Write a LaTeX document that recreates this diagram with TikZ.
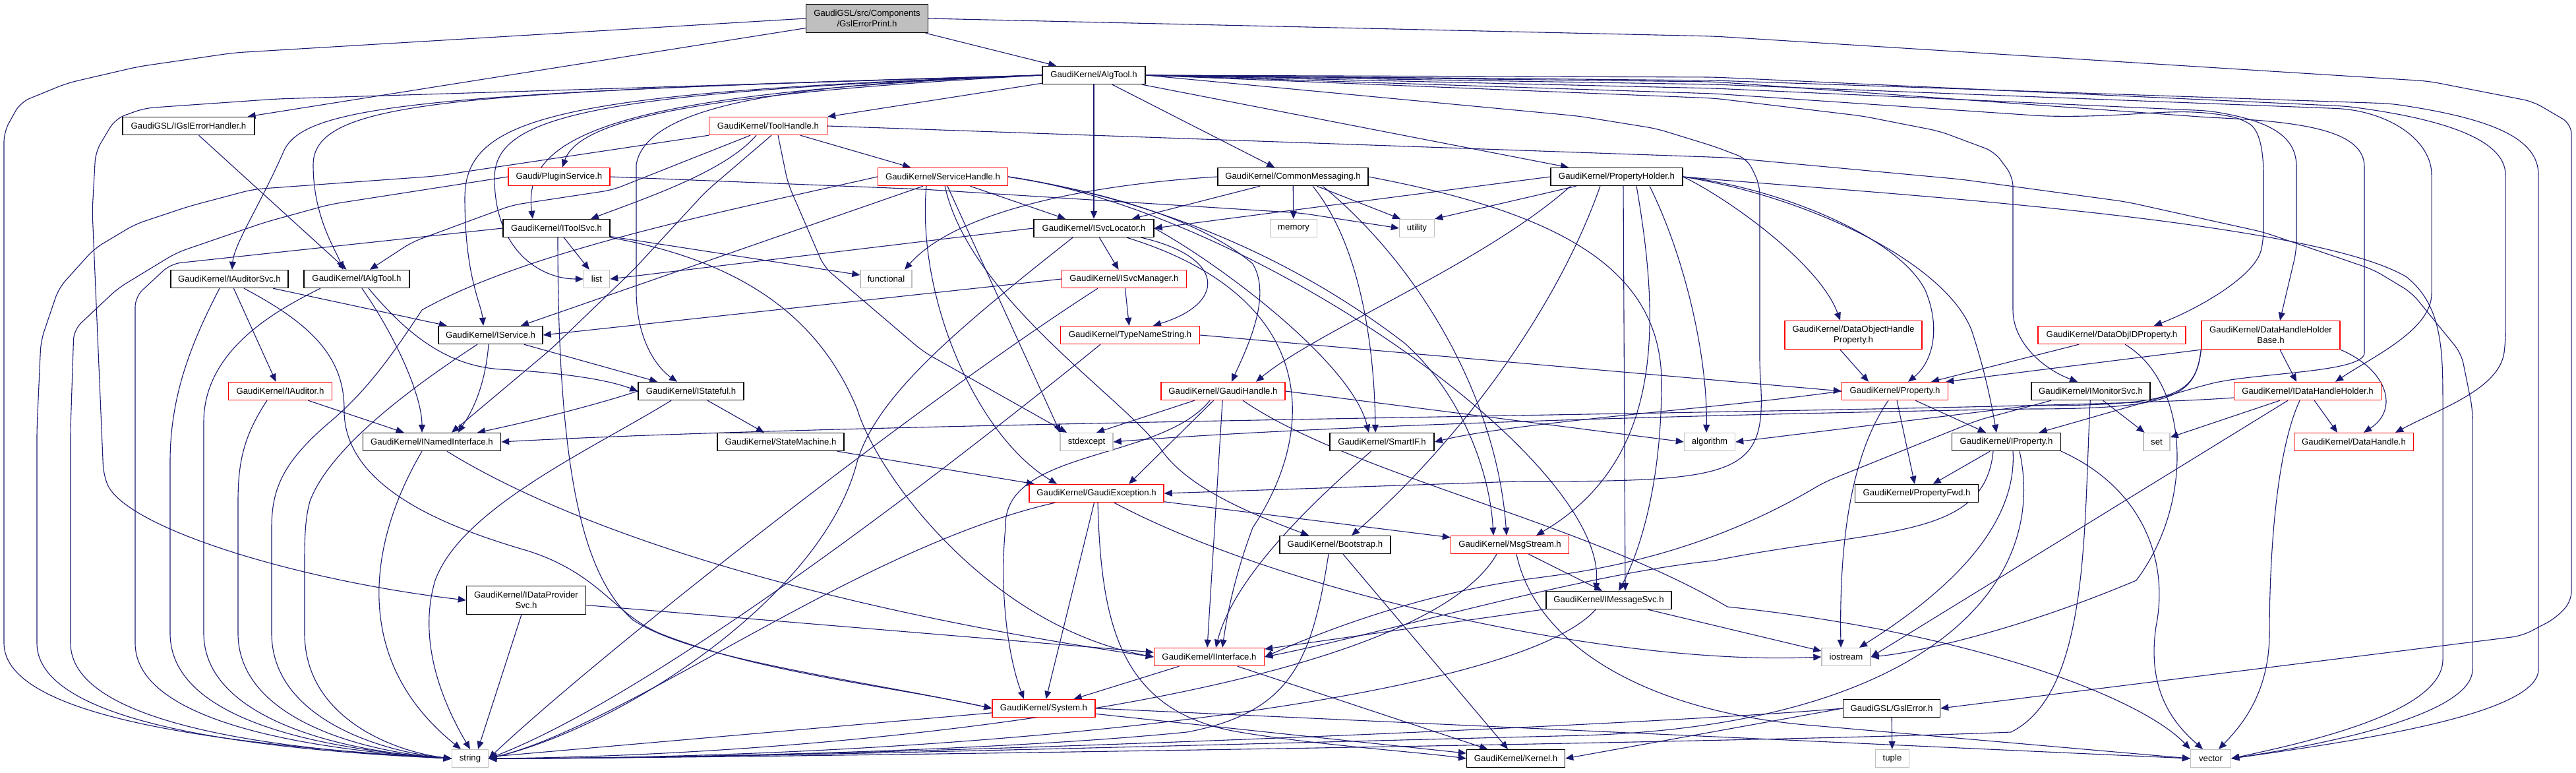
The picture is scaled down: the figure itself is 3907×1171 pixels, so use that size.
\documentclass[tikz,border=0pt]{standalone}
\usepackage{fontspec}
\setsansfont{Liberation Sans}
\usetikzlibrary{arrows.meta}
\definecolor{navy}{RGB}{25,25,112}
\definecolor{sysgray}{RGB}{191,191,191}
\definecolor{boxred}{RGB}{255,0,0}
\pgfdeclarelayer{bg}
\pgfdeclarelayer{edges}
\pgfsetlayers{bg,edges,main}
\tikzset{
 hdr/.style={draw=black, line width=1.4pt, fill=white, inner sep=0pt, minimum height=27pt, align=center, font=\sffamily\fontsize{13.2pt}{16pt}\selectfont},
 redhdr/.style={hdr, draw=boxred},
 syshdr/.style={hdr, draw=sysgray},
 e/.style={draw=navy, line width=1.1pt, -{Triangle[length=12pt,width=10pt]}},
 r/.style={rounded corners=15pt}
}
\begin{document}
\begin{tikzpicture}[x=1pt,y=-1pt]
\begin{pgfonlayer}{bg}
\fill[white] (0,0) rectangle (3907,1171);
\end{pgfonlayer}
\useasboundingbox (0,0) rectangle (3907,1171);
% nodes
\node[hdr, fill=sysgray, minimum width=185pt, minimum height=43pt] (gep) at (1315,28) {GaudiGSL/src/Components\\/GslErrorPrint.h};
\node[hdr, minimum width=156pt] (algtool) at (1659,114) {GaudiKernel/AlgTool.h};
\node[hdr, minimum width=200pt] (igsl) at (286,191) {GaudiGSL/IGslErrorHandler.h};
\node[redhdr, minimum width=179pt] (toolhandle) at (1165,191) {GaudiKernel/ToolHandle.h};
\node[redhdr, minimum width=154pt] (pluginsvc) at (848,268) {Gaudi/PluginService.h};
\node[redhdr, minimum width=197pt] (servicehandle) at (1430,268) {GaudiKernel/ServiceHandle.h};
\node[hdr, minimum width=228pt] (commonmsg) at (1961,268) {GaudiKernel/CommonMessaging.h};
\node[hdr, minimum width=200pt] (propholder) at (2452,268) {GaudiKernel/PropertyHolder.h};
\node[hdr, minimum width=162pt] (itoolsvc) at (844,346) {GaudiKernel/IToolSvc.h};
\node[hdr, minimum width=182pt] (isvcloc) at (1659,346) {GaudiKernel/ISvcLocator.h};
\node[syshdr, minimum width=71pt] (memory) at (1962,346) {memory};
\node[syshdr, minimum width=53pt] (utility) at (2149,346) {utility};
\node[hdr, minimum width=178pt] (iauditorsvc) at (348,423) {GaudiKernel/IAuditorSvc.h};
\node[hdr, minimum width=160pt] (ialgtool) at (541,423) {GaudiKernel/IAlgTool.h};
\node[syshdr, minimum width=39pt] (list) at (905,423) {list};
\node[syshdr, minimum width=78pt] (functional) at (1344,423) {functional};
\node[redhdr, minimum width=189pt] (isvcmgr) at (1705,423) {GaudiKernel/ISvcManager.h};
\node[hdr, minimum width=158pt] (iservice) at (744,508) {GaudiKernel/IService.h};
\node[redhdr, minimum width=211pt] (typename) at (1714,508) {GaudiKernel/TypeNameString.h};
\node[redhdr, minimum width=208pt, minimum height=43pt] (dohprop) at (2811,508) {GaudiKernel/DataObjectHandle\\Property.h};
\node[redhdr, minimum width=224pt] (dataobjid) at (3203,508) {GaudiKernel/DataObjIDProperty.h};
\node[redhdr, minimum width=210pt, minimum height=43pt] (dhhbase) at (3444,508) {GaudiKernel/DataHandleHolder\\Base.h};
\node[redhdr, minimum width=157pt] (iauditor) at (425,593) {GaudiKernel/IAuditor.h};
\node[hdr, minimum width=160pt] (istateful) at (1048,593) {GaudiKernel/IStateful.h};
\node[redhdr, minimum width=188pt] (gaudihandle) at (1855,593) {GaudiKernel/GaudiHandle.h};
\node[redhdr, minimum width=161pt] (property) at (2874,593) {GaudiKernel/Property.h};
\node[hdr, minimum width=180pt] (imonitorsvc) at (3171,593) {GaudiKernel/IMonitorSvc.h};
\node[redhdr, minimum width=223pt] (idhholder) at (3500,593) {GaudiKernel/IDataHandleHolder.h};
\node[hdr, minimum width=209pt] (inamed) at (655,670) {GaudiKernel/INamedInterface.h};
\node[hdr, minimum width=192pt] (statemachine) at (1184,670) {GaudiKernel/StateMachine.h};
\node[syshdr, minimum width=80pt] (stdexcept) at (1648,670) {stdexcept};
\node[hdr, minimum width=158pt] (smartif) at (2096,670) {GaudiKernel/SmartIF.h};
\node[syshdr, minimum width=77pt] (algorithm) at (2593,670) {algorithm};
\node[hdr, minimum width=165pt] (iproperty) at (3043,670) {GaudiKernel/IProperty.h};
\node[syshdr, minimum width=40pt] (set) at (3271,670) {set};
\node[redhdr, minimum width=181pt] (datahandle) at (3570,670) {GaudiKernel/DataHandle.h};
\node[redhdr, minimum width=204pt] (gaudiexc) at (1663,748) {GaudiKernel/GaudiException.h};
\node[hdr, minimum width=187pt] (propfwd) at (2907,748) {GaudiKernel/PropertyFwd.h};
\node[hdr, minimum width=168pt] (bootstrap) at (2025,826) {GaudiKernel/Bootstrap.h};
\node[redhdr, minimum width=179pt] (msgstream) at (2290,826) {GaudiKernel/MsgStream.h};
\node[hdr, minimum width=181pt, minimum height=43pt] (idataprov) at (798,910) {GaudiKernel/IDataProvider\\Svc.h};
\node[hdr, minimum width=190pt] (imessagesvc) at (2440,910) {GaudiKernel/IMessageSvc.h};
\node[redhdr, minimum width=167pt] (iinterface) at (1834,996) {GaudiKernel/IInterface.h};
\node[syshdr, minimum width=74pt] (iostream) at (2800,996) {iostream};
\node[redhdr, minimum width=156pt] (system) at (1583,1074) {GaudiKernel/System.h};
\node[hdr, minimum width=147pt] (gslerror) at (2869,1074) {GaudiGSL/GslError.h};
\node[syshdr, minimum width=55pt] (string) at (713,1150) {string};
\node[hdr, minimum width=149pt] (kernel) at (2299,1150) {GaudiKernel/Kernel.h};
\node[syshdr, minimum width=51pt] (tuple) at (2870,1150) {tuple};
\node[syshdr, minimum width=61pt] (vector) at (3353,1150) {vector};

\begin{pgfonlayer}{edges}
% GslErrorPrint
\draw[e] (gep) -- (algtool);
\draw[e] (gep) -- (igsl);
\draw[e,r] (gep.west) -- (355,80) -- (210,101) -- (102,126) -- (31,155) -- (6,200) -- (6,960) .. controls (6,1090) and (350,1130) .. (string.west);
\draw[e,r] (gep.east) -- (2600,55) -- (3683,123) -- (3842,154) -- (3900,188) -- (3900,912) -- (3875,938) -- (3825,964) -- (gslerror.east);
% IGslErrorHandler
\draw[e] (igsl) -- (ialgtool);
% AlgTool
\draw[e] (algtool) -- (toolhandle);
\draw[e] (algtool) -- (commonmsg);
\draw[e] (algtool) -- (propholder);
\draw[e] (algtool) -- (isvcloc);
\draw[e] (algtool.west) .. controls (1100,140) and (880,175) .. (pluginsvc);
\draw[e] (algtool.west) .. controls (950,140) and (790,200) .. ([xshift=-36pt]itoolsvc.north);
\draw[e] (algtool.west) .. controls (900,140) and (750,175) .. (750,270) .. controls (750,380) and (820,423) .. (list.west);
\draw[e] (algtool.west) .. controls (850,140) and (705,175) .. (705,300) .. controls (705,420) and (730,460) .. ([xshift=-11pt]iservice.north);
\draw[e] (algtool.west) .. controls (700,140) and (475,150) .. (475,250) .. controls (475,330) and (510,380) .. ([xshift=-21pt]ialgtool.north);
\draw[e] (algtool.west) .. controls (640,140) and (460,160) .. (430,230) .. controls (395,310) and (355,370) .. ([xshift=4pt]iauditorsvc.north);
\draw[e,r] (algtool.west) -- (420,150) -- (219,164) -- (175,180) -- (145,230) -- (140,320) -- (157,720) .. controls (190,800) and (450,880) .. (idataprov.west);
\draw[e] (algtool.west) .. controls (1250,125) and (980,150) .. (965,250) -- (965,440) .. controls (965,520) and (1000,560) .. ([xshift=-21pt]istateful.north);
\draw[e,r] (algtool.east) -- (2600,149) -- (2825,176) -- (2942,199) -- (3025,230) -- (3053,268) -- (3053,455) .. controls (3053,520) and (3100,560) .. ([xshift=-20pt]imonitorsvc.north);
\draw[e,r] (algtool.east) -- (2600,142) -- (3100,176) .. controls (3250,178) and (3300,160) .. (3400,180) .. controls (3430,200) and (3433,240) .. (3433,280) -- (3433,364) .. controls (3420,420) and (3330,470) .. ([xshift=64pt]dataobjid.north);
\draw[e,r] (algtool.east) -- (2600,134) -- (3350,168) .. controls (3450,185) and (3483,210) .. (3483,268) -- (3483,380) -- ([xshift=14pt]dhhbase.north);
\draw[e,r] (algtool.east) -- (2600,128) -- (3558,165) .. controls (3640,180) and (3688,220) .. (3688,280) -- (3688,430) .. controls (3688,500) and (3600,540) .. ([xshift=42pt]idhholder.north);
\draw[e,r] (algtool.east) -- (2600,117) -- (3558,161) .. controls (3700,180) and (3800,210) .. (3800,280) -- (3800,520) .. controls (3790,590) and (3700,620) .. ([xshift=63pt]datahandle.north);
\draw[e,r] (algtool.east) -- (2600,122) -- (3625,157) .. controls (3780,180) and (3850,210) .. (3850,280) -- (3850,1000) .. controls (3850,1080) and (3600,1120) .. (vector.east);
\draw[e,r] (algtool.east) -- (2600,124) -- (3350,178) .. controls (3500,185) and (3586,200) .. (3586,268) -- (3586,520) .. controls (3586,565) and (3420,565) .. (3340,585) -- (iproperty);
\draw[e,r] (algtool.east) -- (2394,176) -- (2512,195) -- (2600,222) -- (2650,241) -- (2669,280) -- (2669,560) .. controls (2680,720) and (2640,730) .. (2300,730) -- (gaudiexc.east);
% ToolHandle
\draw[e,r] (toolhandle.south west) -- (661,267) -- (384,287) -- (286,313) -- (205,340) -- (143,377) -- (89,437) -- (62,517) -- (56,650) -- (56,960) .. controls (56,1090) and (350,1135) .. (string.west);
\draw[e,r] ([xshift=-27pt]toolhandle.south) -- (929,288) -- (777,311) -- (625,367) -- ([xshift=20pt]ialgtool.north);
\draw[e] ([xshift=-18pt]toolhandle.south) .. controls (1100,260) and (980,300) .. ([xshift=52pt]itoolsvc.north);
\draw[e,r] ([xshift=5pt]toolhandle.south) -- (1071,290) -- (960,410) -- (835,530) -- ([xshift=30pt]inamed.north);
\draw[e] (toolhandle) -- (servicehandle);
\draw[e,r] (toolhandle.east) -- (2620,239) -- (2975,272) -- (3225,306) -- (3433,352) -- (3600,409) -- (3658,444) -- (3733,536) -- (3750,620) -- (3750,1000) .. controls (3750,1080) and (3550,1125) .. (vector.east);
\draw[e,r] ([xshift=15pt]toolhandle.south) -- (1195,278) -- (1250,405) -- (1400,533) -- ([xshift=-30pt]stdexcept.north);
% PluginService
\draw[e,r] (pluginsvc.west) -- (500,310) -- (402,337) -- (268,383) -- (179,437) -- (112,500) -- (107,650) -- (107,960) .. controls (107,1090) and (380,1135) .. (string.west);
\draw[e,r] (pluginsvc.east) -- (1400,287) -- (1973,323) -- (utility.west);
% ServiceHandle
\draw[e] (servicehandle) -- ([xshift=-43pt]isvcloc.north);
\draw[e] ([xshift=-30pt]servicehandle.south) -- ([xshift=46pt]iservice.north);
\draw[e] ([xshift=7pt]servicehandle.south) -- ([xshift=-40pt]stdexcept.north);
\draw[e] (servicehandle.east) .. controls (1700,295) and (1830,340) .. (1900,400) .. controls (1930,450) and (1890,530) .. ([xshift=13pt]gaudihandle.north);
\draw[e] (servicehandle.east) .. controls (1800,310) and (2000,420) .. (2130,520) .. controls (2220,600) and (2260,720) .. ([xshift=-25pt]msgstream.north);
\draw[e] (servicehandle.east) .. controls (1900,320) and (2440,700) .. ([xshift=-20pt]imessagesvc.north);
\draw[e] ([xshift=-25pt]servicehandle.south) .. controls (1390,450) and (1480,660) .. ([xshift=-60pt]gaudiexc.north);
\draw[e] (servicehandle) .. controls (1470,450) and (1700,600) .. (1760,680) .. controls (1800,740) and (1900,780) .. ([xshift=-40pt]bootstrap.north);
\draw[e] (servicehandle.west) .. controls (1100,320) and (800,380) .. (640,470) .. controls (600,530) and (560,590) .. (500,640) .. controls (430,700) and (412,740) .. (412,800) -- (412,960) .. controls (412,1090) and (580,1140) .. (string.west);
% CommonMessaging
\draw[e] (commonmsg) -- (memory);
\draw[e] (commonmsg) -- ([xshift=-25pt]utility.north);
\draw[e] ([xshift=-50pt]commonmsg.south) -- ([xshift=58pt]isvcloc.north);
\draw[e] (commonmsg.west) .. controls (1650,280) and (1450,320) .. ([xshift=28pt]functional.north);
\draw[e] ([xshift=30pt]commonmsg.south) .. controls (2070,380) and (2085,550) .. ([xshift=-10pt]smartif.north);
\draw[e] ([xshift=45pt]commonmsg.south) .. controls (2150,400) and (2270,600) .. ([xshift=-5pt]msgstream.north);
\draw[e] (commonmsg.east) .. controls (2350,320) and (2520,400) .. (2520,580) .. controls (2520,750) and (2480,850) .. ([xshift=15pt]imessagesvc.north);
% PropertyHolder
\draw[e] (propholder) -- (utility.north east);
\draw[e] (propholder.west) -- (isvcloc.east);
\draw[e] ([xshift=-70pt]propholder.south) .. controls (2250,400) and (2000,500) .. ([xshift=50pt]gaudihandle.north);
\draw[e] ([xshift=-25pt]propholder.south) .. controls (2350,500) and (2180,700) .. ([xshift=25pt]bootstrap.north);
\draw[e] ([xshift=10pt]propholder.south) -- ([xshift=25pt]imessagesvc.north);
\draw[e] ([xshift=30pt]propholder.south) .. controls (2520,500) and (2520,700) .. ([xshift=40pt]msgstream.north);
\draw[e] ([xshift=50pt]propholder.south) .. controls (2560,400) and (2590,550) .. ([xshift=-5pt]algorithm.north);
\draw[e] (propholder.east) .. controls (2700,285) and (2880,360) .. (2920,440) .. controls (2945,500) and (2930,550) .. ([xshift=20pt]property.north);
\draw[e] (propholder.east) .. controls (2750,300) and (2950,400) .. (2990,500) .. controls (3010,560) and (3020,610) .. ([xshift=-15pt]iproperty.north);
\draw[e] (propholder.east) .. controls (2620,300) and (2760,400) .. ([xshift=-20pt]dohprop.north);
\draw[e] (propholder.east) .. controls (2800,290) and (3500,330) .. (3650,420) .. controls (3700,460) and (3705,520) .. (3705,600) -- (3705,1000) .. controls (3705,1080) and (3500,1125) .. (vector.east);
% IToolSvc
\draw[e] (itoolsvc) -- (list);
\draw[e] (itoolsvc) -- (functional);
\draw[e,r] (itoolsvc.west) -- (259,400) -- (205,450) -- (205,960) .. controls (205,1090) and (450,1135) .. (string.west);
\draw[e] ([xshift=2pt]itoolsvc.south) .. controls (846,700) and (880,870) .. (960,940) .. controls (1050,1000) and (1300,1030) .. (system.west);
\draw[e] (itoolsvc.south east) .. controls (1150,400) and (1250,500) .. (1300,620) .. controls (1330,720) and (1500,950) .. (iinterface.west);
% ISvcLocator
\draw[e] (isvcloc) -- (isvcmgr);
\draw[e] ([xshift=72pt]isvcloc.south) .. controls (1860,390) and (1860,460) .. ([xshift=35pt]typename.north);
\draw[e] (isvcloc.west) -- (list.east);
\draw[e] ([xshift=-32pt]isvcloc.south) .. controls (1450,500) and (1330,600) .. (1300,700) .. controls (1250,900) and (950,1100) .. (string.east);
\draw[e] (isvcloc.east) .. controls (1850,400) and (2050,550) .. ([xshift=-20pt]smartif.north);
\draw[e] ([xshift=50pt]isvcloc.south) .. controls (2000,450) and (2000,650) .. (1900,800) .. controls (1870,880) and (1860,940) .. ([xshift=20pt]iinterface.north);
% ISvcManager
\draw[e] (isvcmgr) -- (typename);
\draw[e] (isvcmgr.west) -- (iservice.east);
\draw[e] ([xshift=-40pt]isvcmgr.south) .. controls (1380,620) and (900,1000) .. (string.east);
% TypeNameString
\draw[e] (typename.east) -- (property.west);
\draw[e] ([xshift=-45pt]typename.south) .. controls (1450,700) and (1000,1050) .. (string.east);
% IAuditorSvc
\draw[e] (iauditorsvc) -- (iservice);
\draw[e] (iauditorsvc) -- (iauditor);
\draw[e] ([xshift=-15pt]iauditorsvc.south) .. controls (290,520) and (258,600) .. (258,700) -- (258,960) .. controls (258,1090) and (480,1135) .. (string.west);
\draw[e] ([xshift=22pt]iauditorsvc.south) .. controls (470,490) and (522,540) .. (522,620) .. controls (520,740) and (680,800) .. (800,835) .. controls (910,870) and (930,930) .. (1000,960) .. controls (1150,1020) and (1350,1040) .. (system.west);
% IAlgTool
\draw[e] ([xshift=-55pt]ialgtool.south) .. controls (420,470) and (309,530) .. (309,640) -- (309,960) .. controls (309,1090) and (520,1140) .. (string.west);
\draw[e] ([xshift=8pt]ialgtool.south) .. controls (600,510) and (640,600) .. ([xshift=-15pt]inamed.north);
\draw[e] ([xshift=18pt]ialgtool.south) .. controls (620,510) and (680,555) .. (760,560) .. controls (850,565) and (920,575) .. (istateful.west);
% IService
\draw[e] ([xshift=-20pt]iservice.south) .. controls (620,590) and (500,680) .. (470,760) .. controls (462,790) and (462,820) .. (462,860) -- (462,960) .. controls (462,1090) and (600,1140) .. (string.west);
\draw[e] ([xshift=-3pt]iservice.south) .. controls (735,600) and (705,640) .. ([xshift=40pt]inamed.north);
\draw[e] (iservice) -- (istateful);
% IAuditor
\draw[e] (iauditor) -- (inamed);
\draw[e] ([xshift=-20pt]iauditor.south) .. controls (370,660) and (361,700) .. (361,760) -- (361,960) .. controls (361,1090) and (550,1140) .. (string.west);
% IStateful
\draw[e] (istateful) -- (statemachine);
\draw[e] (istateful.west) .. controls (900,615) and (800,640) .. ([xshift=69pt]inamed.north);
\draw[e] ([xshift=-30pt]istateful.south) .. controls (900,680) and (700,770) .. (660,880) .. controls (630,980) and (680,1080) .. (string.north);
% INamedInterface
\draw[e] ([xshift=-15pt]inamed.south) .. controls (560,820) and (530,1000) .. ([xshift=-14pt]string.north);
\draw[e] (inamed) .. controls (800,760) and (1100,900) .. (iinterface.west);
% IDataProviderSvc
\draw[e] (idataprov) -- ([xshift=12pt]string.north);
\draw[e] (idataprov) -- (iinterface);
% StateMachine
\draw[e] (statemachine) -- ([xshift=-94pt]gaudiexc.north);
% GaudiHandle
\draw[e] (gaudihandle) -- ([xshift=15pt]stdexcept.north);
\draw[e] (gaudihandle) -- ([xshift=49pt]gaudiexc.north);
\draw[e] (gaudihandle) -- ([xshift=-3pt]iinterface.north);
\draw[e] ([xshift=-20pt]gaudihandle.south) .. controls (1760,700) and (1520,680) .. (1525,800) .. controls (1515,900) and (1530,1000) .. ([xshift=-30pt]system.north);
\draw[e] (gaudihandle.east) -- (algorithm.west);
\draw[e] ([xshift=30pt]gaudihandle.south) .. controls (2050,720) and (2400,790) .. (2620,920) .. controls (3000,960) and (3250,1060) .. (vector.north west);
% GaudiException
\draw[e] (gaudiexc) -- (system);
\draw[e] (gaudiexc) -- (msgstream);
\draw[e] ([xshift=2pt]gaudiexc.south) .. controls (1670,950) and (1700,1080) .. (1880,1110) .. controls (2000,1130) and (2150,1140) .. (kernel.west);
\draw[e] (gaudiexc) .. controls (1950,900) and (2450,1010) .. (iostream.west);
\draw[e] (gaudiexc) .. controls (1300,830) and (950,1100) .. (string.east);
% Bootstrap
\draw[e] (bootstrap) -- (kernel);
\draw[e] ([xshift=-10pt]bootstrap.south) .. controls (1990,1000) and (1960,1080) .. (1800,1110) .. controls (1500,1140) and (1000,1150) .. (string.east);
% MsgStream
\draw[e] (msgstream) -- ([xshift=-10pt]imessagesvc.north);
\draw[e] ([xshift=-20pt]msgstream.south) .. controls (2150,1050) and (1300,1145) .. (string.east);
\draw[e] ([xshift=10pt]msgstream.south) .. controls (2330,980) and (2500,1080) .. (2750,1100) -- (vector.west);
% IMessageSvc
\draw[e] (imessagesvc) -- (iinterface);
\draw[e] (imessagesvc) -- (iostream);
\draw[e] ([xshift=-20pt]imessagesvc.south) .. controls (2300,1060) and (1500,1150) .. (string.east);
% IInterface
\draw[e] (iinterface) -- (system);
\draw[e] (iinterface) -- (kernel);
% System
\draw[e] (system) -- (string);
\draw[e] (system) -- (kernel);
\draw[e] (system.east) -- (vector.west);
% SmartIF
\draw[e] (smartif) .. controls (1980,770) and (1870,880) .. ([xshift=10pt]iinterface.north);
% Property
\draw[e] (property) -- (iproperty);
\draw[e] (property) -- (propfwd);
\draw[e] ([xshift=-10pt]property.south) .. controls (2800,700) and (2790,850) .. ([xshift=-8pt]iostream.north);
\draw[e] (property.west) .. controls (2600,620) and (2300,640) .. (smartif.east);
% IProperty
\draw[e] (iproperty) -- (propfwd);
\draw[e] ([xshift=10pt]iproperty.south) .. controls (3060,800) and (2950,900) .. ([xshift=20pt]iostream.north);
\draw[e] ([xshift=-20pt]iproperty.south) .. controls (3010,820) and (2850,800) .. (2600,850) .. controls (2400,870) and (2100,960) .. (iinterface.east);
\draw[e] ([xshift=20pt]iproperty.south) .. controls (3110,900) and (2900,1100) .. (2400,1115) .. controls (1800,1130) and (1100,1150) .. (string.east);
\draw[e] (iproperty.south east) .. controls (3250,740) and (3290,850) .. (3270,950) .. controls (3255,1050) and (3300,1100) .. ([xshift=-12pt]vector.north);
% IMonitorSvc
\draw[e] (imonitorsvc) -- (set);
\draw[e,r] ([xshift=-60pt]imonitorsvc.south) -- (3000,637) -- (2767,731) .. controls (2600,830) and (2450,860) .. (2340,875) .. controls (2150,900) and (2000,960) .. (iinterface.east);
\draw[e] (imonitorsvc) .. controls (3160,800) and (3170,1050) .. (3050,1110) .. controls (2700,1125) and (1100,1150) .. (string.east);
% IDataHandleHolder
\draw[e] ([yshift=-10pt]idhholder.west) .. controls (3100,625) and (1400,635) .. (inamed.east);
\draw[e] (idhholder) -- (set);
\draw[e] (idhholder) -- ([xshift=-25pt]datahandle.north);
\draw[e] ([xshift=-12pt]idhholder.south) .. controls (3445,700) and (3442,900) .. (3442,960) .. controls (3442,1050) and (3400,1100) .. ([xshift=12pt]vector.north);
\draw[e] ([xshift=-30pt]idhholder.south) -- (iostream.east);
% DataHandleHolderBase
\draw[e] ([xshift=14pt]dhhbase.south) -- ([xshift=-17pt]idhholder.north);
\draw[e] (dhhbase.south east) .. controls (3620,560) and (3640,620) .. ([xshift=15pt]datahandle.north);
\draw[e] (dhhbase.south west) -- ([xshift=-4pt]property.north east);
\draw[e] (dhhbase.south west) .. controls (3330,600) and (3300,615) .. (3080,615) -- (algorithm.east);
\draw[e] (dhhbase.south west) .. controls (3330,600) and (3300,620) .. (3080,620) .. controls (2600,628) and (2000,645) .. (stdexcept.east);
% DataObjIDProperty
\draw[e] ([xshift=-50pt]dataobjid.south) -- ([xshift=55pt]property.north);
\draw[e] ([xshift=20pt]dataobjid.south) .. controls (3320,580) and (3330,760) .. (3240,880) .. controls (3050,960) and (2900,990) .. (iostream.east);
% DataObjectHandleProperty
\draw[e] ([xshift=-20pt]dohprop.south) -- ([xshift=-40pt]property.north);
% GslError
\draw[e] (gslerror) -- (tuple);
\draw[e] (gslerror.west) -- (kernel.east);
\draw[e] (gslerror.west) .. controls (2500,1100) and (1300,1150) .. (string.east);
\end{pgfonlayer}
\end{tikzpicture}
\end{document}
